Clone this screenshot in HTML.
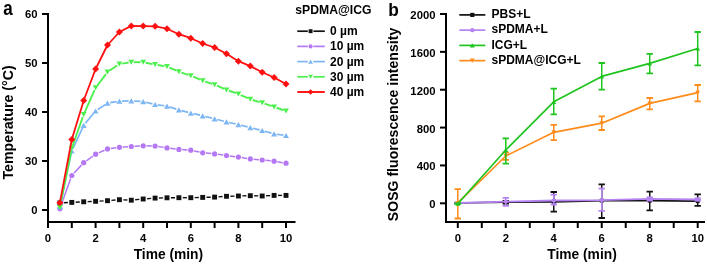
<!DOCTYPE html><html><head><meta charset="utf-8"><style>html,body{margin:0;padding:0;background:#fff;}svg{display:block;will-change:transform;filter:blur(0.3px);}text{font-family:"Liberation Sans", sans-serif;font-weight:bold;fill:#000;}</style></head><body>
<svg width="707" height="264" viewBox="0 0 707 264">
<text transform="translate(3.3,14.9) scale(0.86,1)" font-size="19.8">a</text>
<text transform="translate(388.3,16.4) scale(0.9,1)" font-size="19.2">b</text>
<g stroke="#000" stroke-width="2" fill="none">
<path d="M48,13 V228"/>
<path d="M47,222 H295.5"/>
<path d="M71.80,222 V228"/>
<path d="M95.60,222 V228"/>
<path d="M119.40,222 V228"/>
<path d="M143.20,222 V228"/>
<path d="M167.00,222 V228"/>
<path d="M190.80,222 V228"/>
<path d="M214.60,222 V228"/>
<path d="M238.40,222 V228"/>
<path d="M262.20,222 V228"/>
<path d="M286.00,222 V228"/>
<path d="M42,14 H48"/>
<path d="M42,63 H48"/>
<path d="M42,112 H48"/>
<path d="M42,161 H48"/>
<path d="M42,210 H48"/>
</g>
<text x="37.5" y="18.0" font-size="11.3" text-anchor="end">60</text>
<text x="37.5" y="67.0" font-size="11.3" text-anchor="end">50</text>
<text x="37.5" y="116.0" font-size="11.3" text-anchor="end">40</text>
<text x="37.5" y="165.0" font-size="11.3" text-anchor="end">30</text>
<text x="37.5" y="214.0" font-size="11.3" text-anchor="end">0</text>
<text x="48.00" y="242.2" font-size="11.3" text-anchor="middle">0</text>
<text x="95.60" y="242.2" font-size="11.3" text-anchor="middle">2</text>
<text x="143.20" y="242.2" font-size="11.3" text-anchor="middle">4</text>
<text x="190.80" y="242.2" font-size="11.3" text-anchor="middle">6</text>
<text x="238.40" y="242.2" font-size="11.3" text-anchor="middle">8</text>
<text x="286.00" y="242.2" font-size="11.3" text-anchor="middle">10</text>
<text x="168.4" y="259.2" font-size="13.8" text-anchor="middle">Time (min)</text>
<text transform="translate(12.8,122.4) rotate(-90)" font-size="14.2" text-anchor="middle">Temperature (°C)</text>
<line x1="63.80" y1="202.74" x2="67.90" y2="202.56" stroke="#111111" stroke-width="1.4"/>
<line x1="75.70" y1="202.20" x2="79.80" y2="202.00" stroke="#111111" stroke-width="1.4"/>
<line x1="87.60" y1="201.64" x2="91.70" y2="201.46" stroke="#111111" stroke-width="1.4"/>
<line x1="99.50" y1="201.10" x2="103.60" y2="200.90" stroke="#111111" stroke-width="1.4"/>
<line x1="111.39" y1="200.37" x2="115.51" y2="200.03" stroke="#111111" stroke-width="1.4"/>
<line x1="123.30" y1="199.86" x2="127.40" y2="200.04" stroke="#111111" stroke-width="1.4"/>
<line x1="135.18" y1="199.81" x2="139.32" y2="199.39" stroke="#111111" stroke-width="1.4"/>
<line x1="147.09" y1="198.71" x2="151.21" y2="198.39" stroke="#111111" stroke-width="1.4"/>
<line x1="159.00" y1="198.00" x2="163.10" y2="197.90" stroke="#111111" stroke-width="1.4"/>
<line x1="170.90" y1="197.77" x2="175.00" y2="197.73" stroke="#111111" stroke-width="1.4"/>
<line x1="182.80" y1="197.70" x2="186.90" y2="197.70" stroke="#111111" stroke-width="1.4"/>
<line x1="194.70" y1="197.60" x2="198.80" y2="197.50" stroke="#111111" stroke-width="1.4"/>
<line x1="206.60" y1="197.30" x2="210.70" y2="197.20" stroke="#111111" stroke-width="1.4"/>
<line x1="218.49" y1="196.84" x2="222.61" y2="196.56" stroke="#111111" stroke-width="1.4"/>
<line x1="230.40" y1="196.20" x2="234.50" y2="196.10" stroke="#111111" stroke-width="1.4"/>
<line x1="242.30" y1="195.90" x2="246.40" y2="195.80" stroke="#111111" stroke-width="1.4"/>
<line x1="254.20" y1="195.80" x2="258.30" y2="195.90" stroke="#111111" stroke-width="1.4"/>
<line x1="266.10" y1="195.80" x2="270.20" y2="195.60" stroke="#111111" stroke-width="1.4"/>
<line x1="278.00" y1="195.40" x2="282.10" y2="195.40" stroke="#111111" stroke-width="1.4"/>
<rect x="57.45" y="200.45" width="4.90" height="4.90" fill="#111111"/>
<rect x="69.35" y="199.95" width="4.90" height="4.90" fill="#111111"/>
<rect x="81.25" y="199.35" width="4.90" height="4.90" fill="#111111"/>
<rect x="93.15" y="198.85" width="4.90" height="4.90" fill="#111111"/>
<rect x="105.05" y="198.25" width="4.90" height="4.90" fill="#111111"/>
<rect x="116.95" y="197.25" width="4.90" height="4.90" fill="#111111"/>
<rect x="128.85" y="197.75" width="4.90" height="4.90" fill="#111111"/>
<rect x="140.75" y="196.55" width="4.90" height="4.90" fill="#111111"/>
<rect x="152.65" y="195.65" width="4.90" height="4.90" fill="#111111"/>
<rect x="164.55" y="195.35" width="4.90" height="4.90" fill="#111111"/>
<rect x="176.45" y="195.25" width="4.90" height="4.90" fill="#111111"/>
<rect x="188.35" y="195.25" width="4.90" height="4.90" fill="#111111"/>
<rect x="200.25" y="194.95" width="4.90" height="4.90" fill="#111111"/>
<rect x="212.15" y="194.65" width="4.90" height="4.90" fill="#111111"/>
<rect x="224.05" y="193.85" width="4.90" height="4.90" fill="#111111"/>
<rect x="235.95" y="193.55" width="4.90" height="4.90" fill="#111111"/>
<rect x="247.85" y="193.25" width="4.90" height="4.90" fill="#111111"/>
<rect x="259.75" y="193.55" width="4.90" height="4.90" fill="#111111"/>
<rect x="271.65" y="192.95" width="4.90" height="4.90" fill="#111111"/>
<rect x="283.55" y="192.95" width="4.90" height="4.90" fill="#111111"/>
<line x1="61.01" y1="205.59" x2="70.69" y2="178.61" stroke="#b478f5" stroke-width="1.5"/>
<line x1="74.05" y1="173.08" x2="81.45" y2="165.12" stroke="#b478f5" stroke-width="1.5"/>
<line x1="86.39" y1="160.78" x2="92.91" y2="156.12" stroke="#b478f5" stroke-width="1.5"/>
<line x1="98.61" y1="152.86" x2="104.49" y2="150.24" stroke="#b478f5" stroke-width="1.5"/>
<line x1="110.77" y1="148.46" x2="116.13" y2="147.74" stroke="#b478f5" stroke-width="1.5"/>
<line x1="122.69" y1="147.08" x2="128.01" y2="146.72" stroke="#b478f5" stroke-width="1.5"/>
<line x1="134.59" y1="146.31" x2="139.91" y2="145.99" stroke="#b478f5" stroke-width="1.5"/>
<line x1="146.50" y1="145.86" x2="151.80" y2="145.94" stroke="#b478f5" stroke-width="1.5"/>
<line x1="158.36" y1="146.52" x2="163.74" y2="147.38" stroke="#b478f5" stroke-width="1.5"/>
<line x1="170.27" y1="148.31" x2="175.63" y2="148.99" stroke="#b478f5" stroke-width="1.5"/>
<line x1="182.19" y1="149.62" x2="187.51" y2="149.98" stroke="#b478f5" stroke-width="1.5"/>
<line x1="194.02" y1="150.90" x2="199.48" y2="152.10" stroke="#b478f5" stroke-width="1.5"/>
<line x1="205.99" y1="153.10" x2="211.31" y2="153.60" stroke="#b478f5" stroke-width="1.5"/>
<line x1="217.87" y1="154.34" x2="223.23" y2="155.06" stroke="#b478f5" stroke-width="1.5"/>
<line x1="229.77" y1="155.94" x2="235.13" y2="156.66" stroke="#b478f5" stroke-width="1.5"/>
<line x1="241.66" y1="157.59" x2="247.04" y2="158.41" stroke="#b478f5" stroke-width="1.5"/>
<line x1="253.59" y1="159.20" x2="258.91" y2="159.70" stroke="#b478f5" stroke-width="1.5"/>
<line x1="265.48" y1="160.33" x2="270.82" y2="160.87" stroke="#b478f5" stroke-width="1.5"/>
<line x1="277.35" y1="161.75" x2="282.75" y2="162.65" stroke="#b478f5" stroke-width="1.5"/>
<circle cx="59.90" cy="208.70" r="2.60" fill="#b478f5"/>
<circle cx="71.80" cy="175.50" r="2.60" fill="#b478f5"/>
<circle cx="83.70" cy="162.70" r="2.60" fill="#b478f5"/>
<circle cx="95.60" cy="154.20" r="2.60" fill="#b478f5"/>
<circle cx="107.50" cy="148.90" r="2.60" fill="#b478f5"/>
<circle cx="119.40" cy="147.30" r="2.60" fill="#b478f5"/>
<circle cx="131.30" cy="146.50" r="2.60" fill="#b478f5"/>
<circle cx="143.20" cy="145.80" r="2.60" fill="#b478f5"/>
<circle cx="155.10" cy="146.00" r="2.60" fill="#b478f5"/>
<circle cx="167.00" cy="147.90" r="2.60" fill="#b478f5"/>
<circle cx="178.90" cy="149.40" r="2.60" fill="#b478f5"/>
<circle cx="190.80" cy="150.20" r="2.60" fill="#b478f5"/>
<circle cx="202.70" cy="152.80" r="2.60" fill="#b478f5"/>
<circle cx="214.60" cy="153.90" r="2.60" fill="#b478f5"/>
<circle cx="226.50" cy="155.50" r="2.60" fill="#b478f5"/>
<circle cx="238.40" cy="157.10" r="2.60" fill="#b478f5"/>
<circle cx="250.30" cy="158.90" r="2.60" fill="#b478f5"/>
<circle cx="262.20" cy="160.00" r="2.60" fill="#b478f5"/>
<circle cx="274.10" cy="161.20" r="2.60" fill="#b478f5"/>
<circle cx="286.00" cy="163.20" r="2.60" fill="#b478f5"/>
<line x1="60.47" y1="203.86" x2="71.23" y2="153.64" stroke="#7cb6f3" stroke-width="1.7"/>
<line x1="72.94" y1="148.55" x2="82.56" y2="127.85" stroke="#7cb6f3" stroke-width="1.7"/>
<line x1="85.42" y1="123.32" x2="93.88" y2="113.08" stroke="#7cb6f3" stroke-width="1.7"/>
<line x1="97.85" y1="109.51" x2="105.25" y2="104.59" stroke="#7cb6f3" stroke-width="1.7"/>
<line x1="110.16" y1="102.65" x2="116.74" y2="101.55" stroke="#7cb6f3" stroke-width="1.7"/>
<line x1="122.10" y1="101.03" x2="128.60" y2="100.87" stroke="#7cb6f3" stroke-width="1.7"/>
<line x1="133.99" y1="100.98" x2="140.51" y2="101.42" stroke="#7cb6f3" stroke-width="1.7"/>
<line x1="145.82" y1="102.24" x2="152.48" y2="103.86" stroke="#7cb6f3" stroke-width="1.7"/>
<line x1="157.78" y1="104.86" x2="164.32" y2="105.74" stroke="#7cb6f3" stroke-width="1.7"/>
<line x1="169.57" y1="106.92" x2="176.33" y2="109.08" stroke="#7cb6f3" stroke-width="1.7"/>
<line x1="181.51" y1="110.60" x2="188.19" y2="112.40" stroke="#7cb6f3" stroke-width="1.7"/>
<line x1="193.43" y1="113.70" x2="200.07" y2="115.20" stroke="#7cb6f3" stroke-width="1.7"/>
<line x1="205.32" y1="116.46" x2="211.98" y2="118.14" stroke="#7cb6f3" stroke-width="1.7"/>
<line x1="217.21" y1="119.48" x2="223.89" y2="121.22" stroke="#7cb6f3" stroke-width="1.7"/>
<line x1="229.13" y1="122.50" x2="235.77" y2="124.00" stroke="#7cb6f3" stroke-width="1.7"/>
<line x1="241.02" y1="125.26" x2="247.68" y2="126.94" stroke="#7cb6f3" stroke-width="1.7"/>
<line x1="252.92" y1="128.24" x2="259.58" y2="129.86" stroke="#7cb6f3" stroke-width="1.7"/>
<line x1="264.80" y1="131.24" x2="271.50" y2="133.16" stroke="#7cb6f3" stroke-width="1.7"/>
<line x1="276.78" y1="134.26" x2="283.32" y2="135.14" stroke="#7cb6f3" stroke-width="1.7"/>
<path d="M59.90,203.90 L62.90,209.10 L56.90,209.10Z" fill="#7cb6f3"/>
<path d="M71.80,148.40 L74.80,153.60 L68.80,153.60Z" fill="#7cb6f3"/>
<path d="M83.70,122.80 L86.70,128.00 L80.70,128.00Z" fill="#7cb6f3"/>
<path d="M95.60,108.40 L98.60,113.60 L92.60,113.60Z" fill="#7cb6f3"/>
<path d="M107.50,100.50 L110.50,105.70 L104.50,105.70Z" fill="#7cb6f3"/>
<path d="M119.40,98.50 L122.40,103.70 L116.40,103.70Z" fill="#7cb6f3"/>
<path d="M131.30,98.20 L134.30,103.40 L128.30,103.40Z" fill="#7cb6f3"/>
<path d="M143.20,99.00 L146.20,104.20 L140.20,104.20Z" fill="#7cb6f3"/>
<path d="M155.10,101.90 L158.10,107.10 L152.10,107.10Z" fill="#7cb6f3"/>
<path d="M167.00,103.50 L170.00,108.70 L164.00,108.70Z" fill="#7cb6f3"/>
<path d="M178.90,107.30 L181.90,112.50 L175.90,112.50Z" fill="#7cb6f3"/>
<path d="M190.80,110.50 L193.80,115.70 L187.80,115.70Z" fill="#7cb6f3"/>
<path d="M202.70,113.20 L205.70,118.40 L199.70,118.40Z" fill="#7cb6f3"/>
<path d="M214.60,116.20 L217.60,121.40 L211.60,121.40Z" fill="#7cb6f3"/>
<path d="M226.50,119.30 L229.50,124.50 L223.50,124.50Z" fill="#7cb6f3"/>
<path d="M238.40,122.00 L241.40,127.20 L235.40,127.20Z" fill="#7cb6f3"/>
<path d="M250.30,125.00 L253.30,130.20 L247.30,130.20Z" fill="#7cb6f3"/>
<path d="M262.20,127.90 L265.20,133.10 L259.20,133.10Z" fill="#7cb6f3"/>
<path d="M274.10,131.30 L277.10,136.50 L271.10,136.50Z" fill="#7cb6f3"/>
<path d="M286.00,132.90 L289.00,138.10 L283.00,138.10Z" fill="#7cb6f3"/>
<line x1="60.41" y1="204.85" x2="71.29" y2="150.55" stroke="#4cf04c" stroke-width="1.9"/>
<line x1="72.67" y1="145.55" x2="82.83" y2="116.95" stroke="#4cf04c" stroke-width="1.9"/>
<line x1="84.76" y1="112.13" x2="94.54" y2="90.17" stroke="#4cf04c" stroke-width="1.9"/>
<line x1="97.16" y1="85.72" x2="105.94" y2="74.08" stroke="#4cf04c" stroke-width="1.9"/>
<line x1="109.66" y1="70.55" x2="117.24" y2="65.45" stroke="#4cf04c" stroke-width="1.9"/>
<line x1="121.97" y1="63.61" x2="128.73" y2="62.59" stroke="#4cf04c" stroke-width="1.9"/>
<line x1="133.90" y1="62.20" x2="140.60" y2="62.20" stroke="#4cf04c" stroke-width="1.9"/>
<line x1="145.75" y1="62.71" x2="152.55" y2="64.09" stroke="#4cf04c" stroke-width="1.9"/>
<line x1="157.67" y1="65.01" x2="164.43" y2="66.09" stroke="#4cf04c" stroke-width="1.9"/>
<line x1="169.38" y1="67.56" x2="176.52" y2="70.74" stroke="#4cf04c" stroke-width="1.9"/>
<line x1="181.37" y1="72.61" x2="188.33" y2="74.89" stroke="#4cf04c" stroke-width="1.9"/>
<line x1="193.20" y1="76.71" x2="200.30" y2="79.69" stroke="#4cf04c" stroke-width="1.9"/>
<line x1="205.16" y1="81.53" x2="212.14" y2="83.87" stroke="#4cf04c" stroke-width="1.9"/>
<line x1="216.98" y1="85.74" x2="224.12" y2="88.86" stroke="#4cf04c" stroke-width="1.9"/>
<line x1="228.96" y1="90.75" x2="235.94" y2="93.15" stroke="#4cf04c" stroke-width="1.9"/>
<line x1="240.78" y1="95.06" x2="247.92" y2="98.24" stroke="#4cf04c" stroke-width="1.9"/>
<line x1="252.79" y1="100.03" x2="259.71" y2="102.07" stroke="#4cf04c" stroke-width="1.9"/>
<line x1="264.66" y1="103.65" x2="271.64" y2="106.05" stroke="#4cf04c" stroke-width="1.9"/>
<line x1="276.55" y1="107.77" x2="283.55" y2="110.23" stroke="#4cf04c" stroke-width="1.9"/>
<path d="M59.90,209.90 L62.80,204.90 L57.00,204.90Z" fill="#4cf04c"/>
<path d="M71.80,150.50 L74.70,145.50 L68.90,145.50Z" fill="#4cf04c"/>
<path d="M83.70,117.00 L86.60,112.00 L80.80,112.00Z" fill="#4cf04c"/>
<path d="M95.60,90.30 L98.50,85.30 L92.70,85.30Z" fill="#4cf04c"/>
<path d="M107.50,74.50 L110.40,69.50 L104.60,69.50Z" fill="#4cf04c"/>
<path d="M119.40,66.50 L122.30,61.50 L116.50,61.50Z" fill="#4cf04c"/>
<path d="M131.30,64.70 L134.20,59.70 L128.40,59.70Z" fill="#4cf04c"/>
<path d="M143.20,64.70 L146.10,59.70 L140.30,59.70Z" fill="#4cf04c"/>
<path d="M155.10,67.10 L158.00,62.10 L152.20,62.10Z" fill="#4cf04c"/>
<path d="M167.00,69.00 L169.90,64.00 L164.10,64.00Z" fill="#4cf04c"/>
<path d="M178.90,74.30 L181.80,69.30 L176.00,69.30Z" fill="#4cf04c"/>
<path d="M190.80,78.20 L193.70,73.20 L187.90,73.20Z" fill="#4cf04c"/>
<path d="M202.70,83.20 L205.60,78.20 L199.80,78.20Z" fill="#4cf04c"/>
<path d="M214.60,87.20 L217.50,82.20 L211.70,82.20Z" fill="#4cf04c"/>
<path d="M226.50,92.40 L229.40,87.40 L223.60,87.40Z" fill="#4cf04c"/>
<path d="M238.40,96.50 L241.30,91.50 L235.50,91.50Z" fill="#4cf04c"/>
<path d="M250.30,101.80 L253.20,96.80 L247.40,96.80Z" fill="#4cf04c"/>
<path d="M262.20,105.30 L265.10,100.30 L259.30,100.30Z" fill="#4cf04c"/>
<path d="M274.10,109.40 L277.00,104.40 L271.20,104.40Z" fill="#4cf04c"/>
<path d="M286.00,113.60 L288.90,108.60 L283.10,108.60Z" fill="#4cf04c"/>
<polyline points="59.90,202.70 71.80,139.50 83.70,100.50 95.60,69.00 107.50,45.00 119.40,32.00 131.30,25.90 143.20,26.10 155.10,26.30 167.00,28.70 178.90,34.20 190.80,38.20 202.70,43.50 214.60,47.50 226.50,53.80 238.40,61.20 250.30,66.10 262.20,72.20 274.10,77.50 286.00,84.00" fill="none" stroke="#ff1010" stroke-width="1.8" stroke-linejoin="round"/>
<path d="M59.90,199.20 L63.40,202.70 L59.90,206.20 L56.40,202.70Z" fill="#ff1010"/>
<path d="M71.80,136.00 L75.30,139.50 L71.80,143.00 L68.30,139.50Z" fill="#ff1010"/>
<path d="M83.70,97.00 L87.20,100.50 L83.70,104.00 L80.20,100.50Z" fill="#ff1010"/>
<path d="M95.60,65.50 L99.10,69.00 L95.60,72.50 L92.10,69.00Z" fill="#ff1010"/>
<path d="M107.50,41.50 L111.00,45.00 L107.50,48.50 L104.00,45.00Z" fill="#ff1010"/>
<path d="M119.40,28.50 L122.90,32.00 L119.40,35.50 L115.90,32.00Z" fill="#ff1010"/>
<path d="M131.30,22.40 L134.80,25.90 L131.30,29.40 L127.80,25.90Z" fill="#ff1010"/>
<path d="M143.20,22.60 L146.70,26.10 L143.20,29.60 L139.70,26.10Z" fill="#ff1010"/>
<path d="M155.10,22.80 L158.60,26.30 L155.10,29.80 L151.60,26.30Z" fill="#ff1010"/>
<path d="M167.00,25.20 L170.50,28.70 L167.00,32.20 L163.50,28.70Z" fill="#ff1010"/>
<path d="M178.90,30.70 L182.40,34.20 L178.90,37.70 L175.40,34.20Z" fill="#ff1010"/>
<path d="M190.80,34.70 L194.30,38.20 L190.80,41.70 L187.30,38.20Z" fill="#ff1010"/>
<path d="M202.70,40.00 L206.20,43.50 L202.70,47.00 L199.20,43.50Z" fill="#ff1010"/>
<path d="M214.60,44.00 L218.10,47.50 L214.60,51.00 L211.10,47.50Z" fill="#ff1010"/>
<path d="M226.50,50.30 L230.00,53.80 L226.50,57.30 L223.00,53.80Z" fill="#ff1010"/>
<path d="M238.40,57.70 L241.90,61.20 L238.40,64.70 L234.90,61.20Z" fill="#ff1010"/>
<path d="M250.30,62.60 L253.80,66.10 L250.30,69.60 L246.80,66.10Z" fill="#ff1010"/>
<path d="M262.20,68.70 L265.70,72.20 L262.20,75.70 L258.70,72.20Z" fill="#ff1010"/>
<path d="M274.10,74.00 L277.60,77.50 L274.10,81.00 L270.60,77.50Z" fill="#ff1010"/>
<path d="M286.00,80.50 L289.50,84.00 L286.00,87.50 L282.50,84.00Z" fill="#ff1010"/>
<text x="295.3" y="13.9" font-size="12.2">sPDMA@ICG</text>
<line x1="297.3" y1="31.20" x2="307.8" y2="31.20" stroke="#111111" stroke-width="1.7"/>
<line x1="313.4" y1="31.20" x2="324.8" y2="31.20" stroke="#111111" stroke-width="1.7"/>
<rect x="308.64" y="29.24" width="3.92" height="3.92" fill="#111111"/>
<text x="330" y="34.50" font-size="12">0 µm</text>
<line x1="297.3" y1="46.40" x2="307.8" y2="46.40" stroke="#b478f5" stroke-width="1.7"/>
<line x1="313.4" y1="46.40" x2="324.8" y2="46.40" stroke="#b478f5" stroke-width="1.7"/>
<circle cx="310.60" cy="46.40" r="2.08" fill="#b478f5"/>
<text x="330" y="50.20" font-size="12">10 µm</text>
<line x1="297.3" y1="61.60" x2="307.8" y2="61.60" stroke="#7cb6f3" stroke-width="1.7"/>
<line x1="313.4" y1="61.60" x2="324.8" y2="61.60" stroke="#7cb6f3" stroke-width="1.7"/>
<path d="M310.60,59.52 L313.00,63.68 L308.20,63.68Z" fill="#7cb6f3"/>
<text x="330" y="65.60" font-size="12">20 µm</text>
<line x1="297.3" y1="76.80" x2="307.8" y2="76.80" stroke="#4cf04c" stroke-width="1.7"/>
<line x1="313.4" y1="76.80" x2="324.8" y2="76.80" stroke="#4cf04c" stroke-width="1.7"/>
<path d="M310.60,78.80 L312.92,74.80 L308.28,74.80Z" fill="#4cf04c"/>
<text x="330" y="81.10" font-size="12">30 µm</text>
<line x1="297.3" y1="92.00" x2="324.8" y2="92.00" stroke="#ff1010" stroke-width="1.9"/>
<path d="M310.60,89.20 L313.40,92.00 L310.60,94.80 L307.80,92.00Z" fill="#ff1010"/>
<text x="330" y="96.30" font-size="12">40 µm</text>
<g stroke="#000" stroke-width="2" fill="none">
<path d="M446,13 V223"/>
<path d="M445,222 H705"/>
<path d="M457.80,222 V228"/>
<path d="M481.79,222 V228"/>
<path d="M505.78,222 V228"/>
<path d="M529.77,222 V228"/>
<path d="M553.76,222 V228"/>
<path d="M577.75,222 V228"/>
<path d="M601.74,222 V228"/>
<path d="M625.73,222 V228"/>
<path d="M649.72,222 V228"/>
<path d="M673.71,222 V228"/>
<path d="M697.70,222 V228"/>
<path d="M440,14.00 H446"/>
<path d="M440,51.86 H446"/>
<path d="M440,89.72 H446"/>
<path d="M440,127.58 H446"/>
<path d="M440,165.44 H446"/>
<path d="M440,203.30 H446"/>
</g>
<text x="435.5" y="19.00" font-size="11.3" text-anchor="end">2000</text>
<text x="435.5" y="56.86" font-size="11.3" text-anchor="end">1600</text>
<text x="435.5" y="94.72" font-size="11.3" text-anchor="end">1200</text>
<text x="435.5" y="132.58" font-size="11.3" text-anchor="end">800</text>
<text x="435.5" y="170.44" font-size="11.3" text-anchor="end">400</text>
<text x="435.5" y="208.30" font-size="11.3" text-anchor="end">0</text>
<text x="457.80" y="242.2" font-size="11.3" text-anchor="middle">0</text>
<text x="505.78" y="242.2" font-size="11.3" text-anchor="middle">2</text>
<text x="553.76" y="242.2" font-size="11.3" text-anchor="middle">4</text>
<text x="601.74" y="242.2" font-size="11.3" text-anchor="middle">6</text>
<text x="649.72" y="242.2" font-size="11.3" text-anchor="middle">8</text>
<text x="697.70" y="242.2" font-size="11.3" text-anchor="middle">10</text>
<text x="582" y="259.2" font-size="13.8" text-anchor="middle">Time (min)</text>
<text transform="translate(398,124.5) rotate(-90)" font-size="14.1" text-anchor="middle">SOSG fluorescence intensity</text>
<polyline points="457.80,203.00 505.78,202.20 553.76,201.80 601.74,200.60 649.72,200.70 697.70,201.10" fill="none" stroke="#111111" stroke-width="1.7" stroke-linejoin="round"/>
<path d="M454.30,203.00 H461.30" stroke="#111111" stroke-width="2.2" fill="none"/>
<rect x="455.84" y="201.04" width="3.92" height="3.92" fill="#111111"/>
<path d="M505.78,200.80 V203.60" stroke="#111111" stroke-width="1.5" fill="none"/><path d="M502.58,200.80 H508.98 M502.58,203.60 H508.98" stroke="#111111" stroke-width="1.8" fill="none"/>
<rect x="503.82" y="200.24" width="3.92" height="3.92" fill="#111111"/>
<path d="M553.76,192.00 V211.60" stroke="#111111" stroke-width="1.5" fill="none"/><path d="M550.56,192.00 H556.96 M550.56,211.60 H556.96" stroke="#111111" stroke-width="1.8" fill="none"/>
<rect x="551.80" y="199.84" width="3.92" height="3.92" fill="#111111"/>
<path d="M601.74,184.40 V218.00" stroke="#111111" stroke-width="1.5" fill="none"/><path d="M598.54,184.40 H604.94 M598.54,218.00 H604.94" stroke="#111111" stroke-width="1.8" fill="none"/>
<rect x="599.78" y="198.64" width="3.92" height="3.92" fill="#111111"/>
<path d="M649.72,191.60 V210.30" stroke="#111111" stroke-width="1.5" fill="none"/><path d="M646.52,191.60 H652.92 M646.52,210.30 H652.92" stroke="#111111" stroke-width="1.8" fill="none"/>
<rect x="647.76" y="198.74" width="3.92" height="3.92" fill="#111111"/>
<path d="M697.70,194.30 V205.90" stroke="#111111" stroke-width="1.5" fill="none"/><path d="M694.50,194.30 H700.90 M694.50,205.90 H700.90" stroke="#111111" stroke-width="1.8" fill="none"/>
<rect x="695.74" y="199.14" width="3.92" height="3.92" fill="#111111"/>
<polyline points="457.80,203.00 505.78,201.60 553.76,200.50 601.74,200.20 649.72,198.80 697.70,199.50" fill="none" stroke="#b583f2" stroke-width="1.8" stroke-linejoin="round"/>
<path d="M454.30,203.00 H461.30" stroke="#b583f2" stroke-width="2.2" fill="none"/>
<circle cx="457.80" cy="203.00" r="2.08" fill="#b583f2"/>
<path d="M505.78,197.90 V205.80" stroke="#b583f2" stroke-width="1.5" fill="none"/><path d="M502.58,197.90 H508.98 M502.58,205.80 H508.98" stroke="#b583f2" stroke-width="1.8" fill="none"/>
<circle cx="505.78" cy="201.60" r="2.08" fill="#b583f2"/>
<path d="M553.76,194.70 V204.50" stroke="#b583f2" stroke-width="1.5" fill="none"/><path d="M550.56,194.70 H556.96 M550.56,204.50 H556.96" stroke="#b583f2" stroke-width="1.8" fill="none"/>
<circle cx="553.76" cy="200.50" r="2.08" fill="#b583f2"/>
<path d="M601.74,188.60 V210.80" stroke="#b583f2" stroke-width="1.5" fill="none"/><path d="M598.54,188.60 H604.94 M598.54,210.80 H604.94" stroke="#b583f2" stroke-width="1.8" fill="none"/>
<circle cx="601.74" cy="200.20" r="2.08" fill="#b583f2"/>
<path d="M649.72,197.50 V200.50" stroke="#b583f2" stroke-width="1.5" fill="none"/><path d="M646.52,197.50 H652.92 M646.52,200.50 H652.92" stroke="#b583f2" stroke-width="1.8" fill="none"/>
<circle cx="649.72" cy="198.80" r="2.08" fill="#b583f2"/>
<path d="M697.70,198.50 V200.50" stroke="#b583f2" stroke-width="1.5" fill="none"/><path d="M694.50,198.50 H700.90 M694.50,200.50 H700.90" stroke="#b583f2" stroke-width="1.8" fill="none"/>
<circle cx="697.70" cy="199.50" r="2.08" fill="#b583f2"/>
<polyline points="457.80,202.90 505.78,156.00 553.76,132.30 601.74,123.20 649.72,103.40 697.70,92.70" fill="none" stroke="#ff8c1a" stroke-width="1.7" stroke-linejoin="round"/>
<path d="M457.80,189.20 V218.50" stroke="#ff8c1a" stroke-width="1.5" fill="none"/><path d="M454.60,189.20 H461.00 M454.60,218.50 H461.00" stroke="#ff8c1a" stroke-width="1.8" fill="none"/>
<path d="M457.80,204.90 L460.12,200.90 L455.48,200.90Z" fill="#ff8c1a"/>
<path d="M505.78,152.60 V159.90" stroke="#ff8c1a" stroke-width="1.5" fill="none"/><path d="M502.58,152.60 H508.98 M502.58,159.90 H508.98" stroke="#ff8c1a" stroke-width="1.8" fill="none"/>
<path d="M505.78,158.00 L508.10,154.00 L503.46,154.00Z" fill="#ff8c1a"/>
<path d="M553.76,124.80 V140.20" stroke="#ff8c1a" stroke-width="1.5" fill="none"/><path d="M550.56,124.80 H556.96 M550.56,140.20 H556.96" stroke="#ff8c1a" stroke-width="1.8" fill="none"/>
<path d="M553.76,134.30 L556.08,130.30 L551.44,130.30Z" fill="#ff8c1a"/>
<path d="M601.74,116.40 V130.00" stroke="#ff8c1a" stroke-width="1.5" fill="none"/><path d="M598.54,116.40 H604.94 M598.54,130.00 H604.94" stroke="#ff8c1a" stroke-width="1.8" fill="none"/>
<path d="M601.74,125.20 L604.06,121.20 L599.42,121.20Z" fill="#ff8c1a"/>
<path d="M649.72,98.00 V109.30" stroke="#ff8c1a" stroke-width="1.5" fill="none"/><path d="M646.52,98.00 H652.92 M646.52,109.30 H652.92" stroke="#ff8c1a" stroke-width="1.8" fill="none"/>
<path d="M649.72,105.40 L652.04,101.40 L647.40,101.40Z" fill="#ff8c1a"/>
<path d="M697.70,85.00 V101.30" stroke="#ff8c1a" stroke-width="1.5" fill="none"/><path d="M694.50,85.00 H700.90 M694.50,101.30 H700.90" stroke="#ff8c1a" stroke-width="1.8" fill="none"/>
<path d="M697.70,94.70 L700.02,90.70 L695.38,90.70Z" fill="#ff8c1a"/>
<polyline points="457.80,203.70 505.78,150.00 553.76,101.80 601.74,76.40 649.72,63.40 697.70,48.50" fill="none" stroke="#1fc41f" stroke-width="1.7" stroke-linejoin="round"/>
<path d="M454.30,203.70 H461.30" stroke="#1fc41f" stroke-width="2.2" fill="none"/>
<path d="M457.80,201.62 L460.20,205.78 L455.40,205.78Z" fill="#1fc41f"/>
<path d="M505.78,138.40 V163.60" stroke="#1fc41f" stroke-width="1.5" fill="none"/><path d="M502.58,138.40 H508.98 M502.58,163.60 H508.98" stroke="#1fc41f" stroke-width="1.8" fill="none"/>
<path d="M505.78,147.92 L508.18,152.08 L503.38,152.08Z" fill="#1fc41f"/>
<path d="M553.76,88.60 V114.30" stroke="#1fc41f" stroke-width="1.5" fill="none"/><path d="M550.56,88.60 H556.96 M550.56,114.30 H556.96" stroke="#1fc41f" stroke-width="1.8" fill="none"/>
<path d="M553.76,99.72 L556.16,103.88 L551.36,103.88Z" fill="#1fc41f"/>
<path d="M601.74,63.00 V89.70" stroke="#1fc41f" stroke-width="1.5" fill="none"/><path d="M598.54,63.00 H604.94 M598.54,89.70 H604.94" stroke="#1fc41f" stroke-width="1.8" fill="none"/>
<path d="M601.74,74.32 L604.14,78.48 L599.34,78.48Z" fill="#1fc41f"/>
<path d="M649.72,53.90 V73.40" stroke="#1fc41f" stroke-width="1.5" fill="none"/><path d="M646.52,53.90 H652.92 M646.52,73.40 H652.92" stroke="#1fc41f" stroke-width="1.8" fill="none"/>
<path d="M649.72,61.32 L652.12,65.48 L647.32,65.48Z" fill="#1fc41f"/>
<path d="M697.70,32.00 V65.40" stroke="#1fc41f" stroke-width="1.5" fill="none"/><path d="M694.50,32.00 H700.90 M694.50,65.40 H700.90" stroke="#1fc41f" stroke-width="1.8" fill="none"/>
<path d="M697.70,46.42 L700.10,50.58 L695.30,50.58Z" fill="#1fc41f"/>
<line x1="459.3" y1="14.90" x2="485.3" y2="14.90" stroke="#111111" stroke-width="1.7"/>
<rect x="470.22" y="12.82" width="4.17" height="4.17" fill="#111111"/>
<text x="491.5" y="18.20" font-size="12">PBS+L</text>
<line x1="459.3" y1="30.15" x2="485.3" y2="30.15" stroke="#b583f2" stroke-width="1.7"/>
<circle cx="472.30" cy="30.15" r="2.21" fill="#b583f2"/>
<text x="491.5" y="33.45" font-size="12">sPDMA+L</text>
<line x1="459.3" y1="45.40" x2="485.3" y2="45.40" stroke="#1fc41f" stroke-width="1.7"/>
<path d="M472.30,43.19 L474.85,47.61 L469.75,47.61Z" fill="#1fc41f"/>
<text x="491.5" y="48.70" font-size="12">ICG+L</text>
<line x1="459.3" y1="60.65" x2="485.3" y2="60.65" stroke="#ff8c1a" stroke-width="1.7"/>
<path d="M472.30,62.77 L474.76,58.52 L469.84,58.52Z" fill="#ff8c1a"/>
<text x="491.5" y="63.95" font-size="12">sPDMA@ICG+L</text>
</svg></body></html>
